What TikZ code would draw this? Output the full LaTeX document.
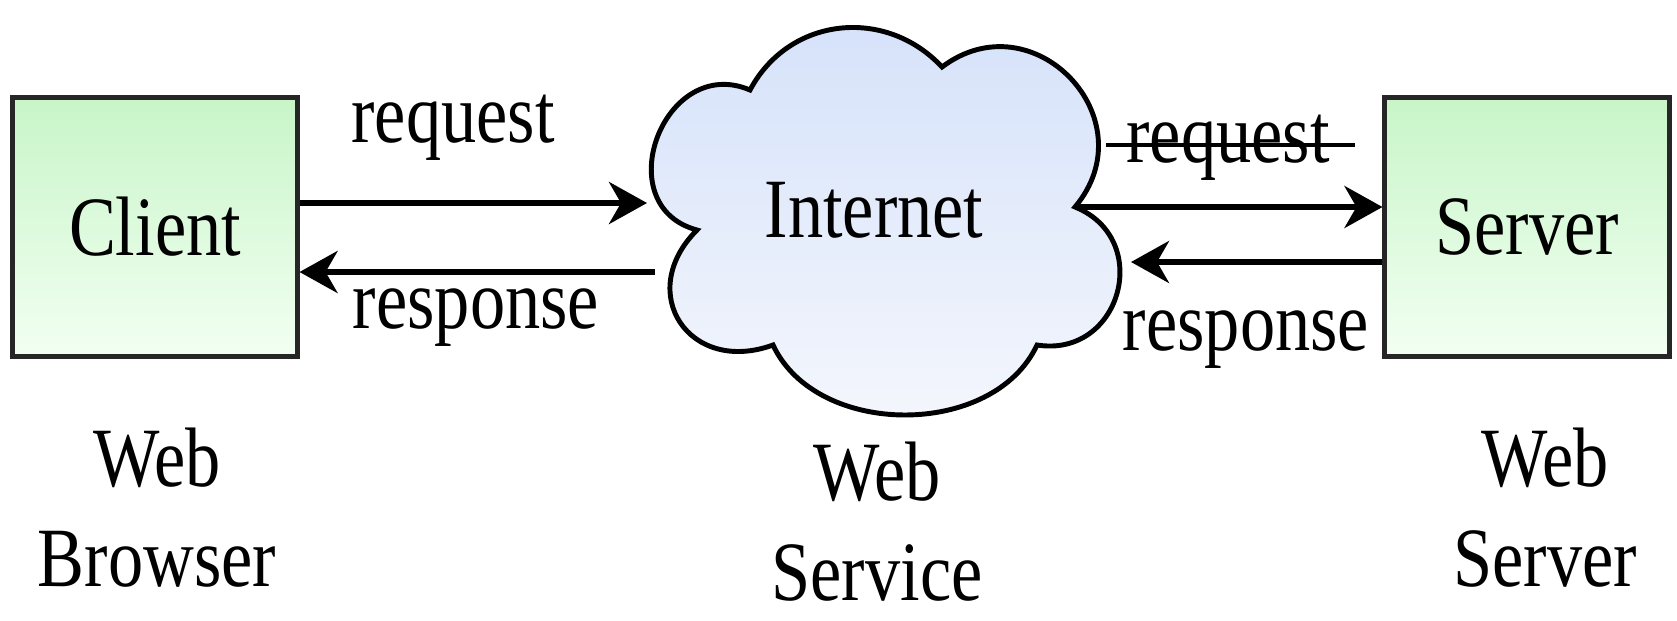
\documentclass[tikz,border=0pt]{standalone}
\usepackage{fontspec}
\setmainfont{Liberation Serif}
\usetikzlibrary{arrows.meta}

\definecolor{boxtop}{RGB}{200,245,200}
\definecolor{boxbot}{RGB}{242,255,242}
\definecolor{cloudtop}{RGB}{212,225,250}
\definecolor{cloudbot}{RGB}{245,247,252}

\begin{document}
\begin{tikzpicture}[x=0.01cm, y=0.01cm,
  txt/.style={font=\fontsize{20}{23.7}\selectfont, yscale=1.2, transform shape, inner sep=0pt},
  machine/.style={txt, draw=black!85, line width=1.4pt, minimum width=2.84cm, minimum height=2.15cm, top color=boxtop, bottom color=boxbot},
  link/.style={line width=1.6pt, -{Stealth[length=3.8mm,width=4.2mm,inset=1.2mm]}}]
\useasboundingbox (0,0) rectangle (1677,620);

% the two ends
\node[machine] (client) at (155,393) {Client};
\node[machine] (server) at (1527,393) {Server};

% internet cloud
\draw[line width=1.4pt, top color=cloudtop, bottom color=cloudbot]
  (697,390) to[out=165,in=157,looseness=1.6] (750,530)
  to[out=62,in=133,looseness=1.1] (942,553)
  to[out=37,in=50,looseness=1.52] (1075,413)
  to[out=-22,in=-9,looseness=1.52] (1037,275)
  to[out=-115,in=-65] (773,275)
  to[out=-160,in=-135,looseness=1.65] cycle;
\node[txt, anchor=base] (net) at (874,383) {Internet};

\coordinate (reqin) at (647,417);
\coordinate (resout) at (655,348);
\coordinate (reqout) at (1075,413);
\coordinate (resin) at (1131,358);

% messages
\draw[link] (client.east |- reqin) -- (reqin);
\draw[link] (resout) -- (client.east |- resout);
\draw[link] (reqout) -- (server.west |- reqout);
\draw[link] (server.west |- resin) -- (resin);

\node[txt, anchor=base] (reqL) at (453,478) {request};
\node[txt, anchor=base] (resL) at (476,292) {response};
\node[txt, anchor=base] (reqR) at (1228,458) {request};
\node[txt, anchor=base] (resR) at (1246,270) {response};
\draw[line width=1.1pt] ([xshift=-0.2cm,yshift=0.17cm]reqR.base west) -- ([xshift=0.25cm,yshift=0.17cm]reqR.base east);

% roles
\node[txt, align=center] (brw) at (157,112) {Web\\Browser};
\node[txt, align=center] (svc) at (877,98) {Web\\Service};
\node[txt, align=center] (srv) at (1545,112) {Web\\Server};
\end{tikzpicture}
\end{document}
